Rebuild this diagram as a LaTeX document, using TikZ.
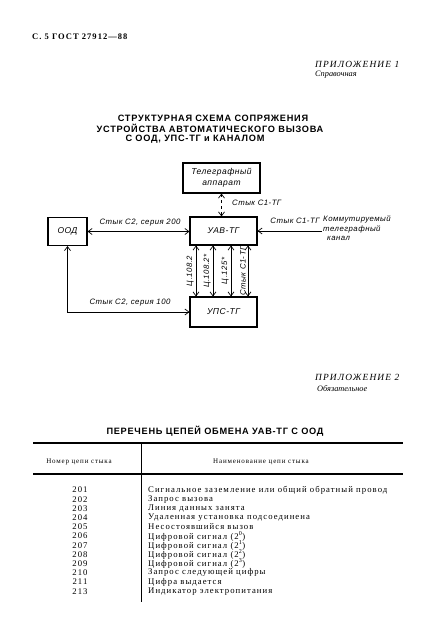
\documentclass[tikz,border=0pt]{standalone}
\usepackage{fontspec}
\setmainfont{Liberation Serif}
\newfontfamily\headfont[LetterSpace=8]{Liberation Sans}
\newfontfamily\gostfont[LetterSpace=6]{Liberation Sans}
\newfontfamily\tabfont[LetterSpace=12]{Liberation Serif}
\usetikzlibrary{arrows.meta}

\begin{document}
\begin{tikzpicture}[x=1pt,y=-1pt,
    box/.style={draw,line width=1.1pt,minimum width=67pt,minimum height=28pt,inner sep=0pt,
      font=\gostfont\itshape\fontsize{8.5}{11}\selectfont},
    lbl/.style={inner sep=0pt,font=\gostfont\itshape\fontsize{7.8}{9.5}\selectfont},
    tip/.tip={Straight Barb[length=4pt,width=6pt]},
    link/.style={line width=0.7pt,tip-tip},
    inlink/.style={line width=0.7pt,-tip},
    head/.style={inner sep=0pt,font=\headfont\bfseries\fontsize{9.2}{10}\selectfont},
    appx/.style={anchor=west,inner sep=0pt,font=\tabfont\itshape\fontsize{9.4}{10}\selectfont},
    kind/.style={anchor=west,inner sep=0pt,font=\itshape\fontsize{8.3}{10}\selectfont},
    row/.style={anchor=west,inner sep=0pt,font=\tabfont\fontsize{8.7}{9}\selectfont},
    num/.style={inner sep=0pt,font=\tabfont\fontsize{8.7}{9}\selectfont}]
  \useasboundingbox (0,0) rectangle (425,633);
  % page head
  \node[anchor=west,inner sep=0pt,font=\tabfont\bfseries\fontsize{8.5}{10}\selectfont] (pagehead) at (32,37) {С. 5 ГОСТ 27912—88};
  \node[appx] (app1) at (315,64) {ПРИЛОЖЕНИЕ 1};
  \node[kind] (app1kind) at (315,75) {Справочная};
  % title of the scheme
  \node[head] (title1) at (213,118) {СТРУКТУРНАЯ СХЕМА СОПРЯЖЕНИЯ};
  \node[head] (title2) at (210,128.5) {УСТРОЙСТВА АВТОМАТИЧЕСКОГО ВЫЗОВА};
  \node[head] (title3) at (195,139) {С ООД, УПС-ТГ и КАНАЛОМ};

  % blocks
  \node[box,minimum width=77pt,minimum height=30pt,align=center] (tga) at (221.5,178) {Телеграфный\\аппарат};
  \node[box] (uav) at (223.5,231) {УАВ-ТГ};
  \node[box,minimum width=39pt] (ood) at (67.5,231.5) {ООД};
  \node[box,minimum height=30pt] (ups) at (223.5,312) {УПС-ТГ};
  \coordinate (chn) at (322,231);

  % interfaces
  \draw[link,dashed] (tga.south) -- (tga.south |- uav.north);
  \node[lbl,anchor=west] (c1top) at (232,203) {Стык С1-ТГ};
  \draw[link] (ood.east) -- (ood.east -| uav.west);
  \node[lbl] (c2s200) at (140,223) {Стык С2, серия 200};
  \draw[inlink] (chn) -- (uav);
  \node[lbl] (c1chn) at (295,221) {Стык С1-ТГ};
  \node[lbl,anchor=west,align=left] (chntext) at (323,228.5) {Коммутируемый\\телеграфный\\\hspace{4pt}канал};
  \draw[link] (ood.south) |- (ups.west);
  \node[lbl] (c2s100) at (130,303) {Стык С2, серия 100};
  \foreach \dx/\txt in {-27.5/Ц.108.2, -10.5/Ц.108.2*, 7.5/Ц.125*, 24.5/Стык С1-ТГ}
    \draw[link] ([xshift=\dx pt]uav.south) -- ([xshift=\dx pt]ups.north)
      node[midway,lbl,rotate=90,above=2pt] {\txt};

  % appendix 2
  \node[appx] (app2) at (315,377) {ПРИЛОЖЕНИЕ 2};
  \node[kind] (app2kind) at (317,389) {Обязательное};
  \node[head] (tabtitle) at (215,431) {ПЕРЕЧЕНЬ ЦЕПЕЙ ОБМЕНА УАВ-ТГ С ООД};

  % table
  \draw[line width=1.1pt] (33,443) -- (403,443);
  \draw[line width=1.3pt] (33,474) -- (403,474);
  \draw[line width=0.6pt] (141,443) -- (141,602);
  \node[num,font=\tabfont\fontsize{7}{8}\selectfont] (colnum) at (79,462) {Номер цепи стыка};
  \node[num,font=\tabfont\fontsize{7}{8}\selectfont] (colname) at (261,462) {Наименование цепи стыка};
  \foreach \n/\txt [count=\i from 0] in {201/Сигнальное заземление или общий обратный провод,
      202/Запрос вызова, 203/Линия данных занята, 204/Удаленная установка подсоединена,
      205/Несостоявшийся вызов, 206/Цифровой сигнал (2\textsuperscript{0}),
      207/Цифровой сигнал (2\textsuperscript{1}), 208/Цифровой сигнал (2\textsuperscript{2}),
      209/Цифровой сигнал (2\textsuperscript{3}), 210/Запрос следующей цифры,
      211/Цифра выдается, 213/Индикатор электропитания} {
    \node[num] (n\n) at (80,490+9.2*\i) {\n};
    \node[row] (t\n) at (148,490+9.2*\i) {\txt};
  }
\end{tikzpicture}
\end{document}
